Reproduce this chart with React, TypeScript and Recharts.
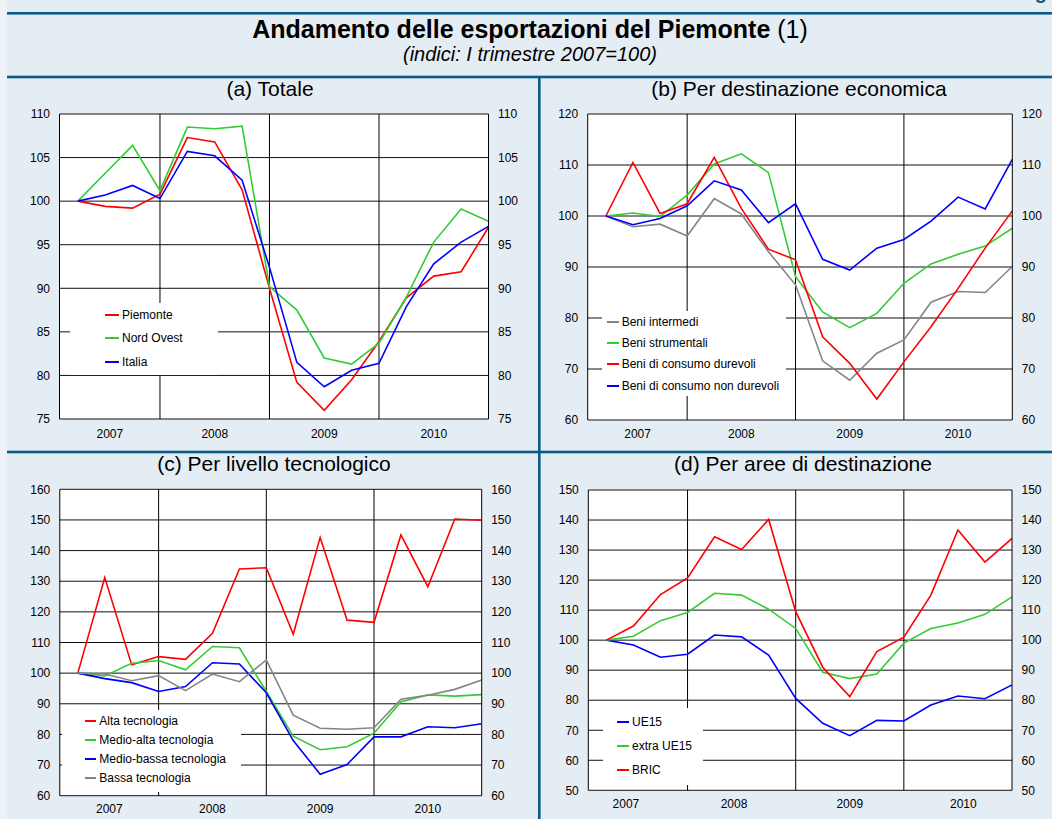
import { LineChart, Line, XAxis, YAxis, CartesianGrid, ReferenceLine, Legend } from 'recharts'

const QUARTERS = [
  'I 2007', 'II 2007', 'III 2007', 'IV 2007',
  'I 2008', 'II 2008', 'III 2008', 'IV 2008',
  'I 2009', 'II 2009', 'III 2009', 'IV 2009',
  'I 2010', 'II 2010', 'III 2010', 'IV 2010',
]
const YEARS = ['2007', '2008', '2009', '2010']
// index of the IV quarter of 2007, 2008, 2009 (year separators)
const YEAR_ENDS = [3, 7, 11]

// (a) Totale
const PIEMONTE = [100, 99.4, 99.2, 100.8, 107.3, 106.8, 101.3, 90.0, 79.2, 76.0, 79.5, 83.9, 88.9, 91.4, 91.9, 97.0]
const NORD_OVEST = [100, 103.2, 106.4, 101.2, 108.5, 108.3, 108.6, 90.2, 87.5, 82.0, 81.3, 83.7, 89.0, 95.3, 99.1, 97.7]
const ITALIA = [100, 100.7, 101.8, 100.3, 105.7, 105.2, 102.4, 92.4, 81.5, 78.7, 80.6, 81.4, 87.9, 92.8, 95.3, 97.1]
const TICKS_TOTALE = [75, 80, 85, 90, 95, 100, 105, 110]

// (b) Per destinazione economica
const INTERMEDI = [100, 97.9, 98.4, 96.1, 103.4, 100.4, 93.0, 86.5, 71.6, 67.8, 73.1, 75.7, 83.1, 85.2, 85.0, 90.1]
const STRUMENTALI = [100, 100.6, 99.9, 104.1, 110.2, 112.2, 108.5, 88.1, 81.2, 78.1, 80.9, 86.8, 90.6, 92.5, 94.1, 97.6]
const DUREVOLI = [100, 110.5, 100.5, 102.4, 111.5, 101.5, 93.5, 91.4, 76.3, 71.1, 64.1, 71.4, 78.3, 85.8, 93.7, 101.0]
const NON_DUREVOLI = [100, 98.3, 99.5, 102.0, 106.9, 105.1, 98.7, 102.4, 91.5, 89.4, 93.7, 95.4, 99.0, 103.7, 101.4, 111.1]
const TICKS_DEST = [60, 70, 80, 90, 100, 110, 120]

// (c) Per livello tecnologico
const ALTA = [100, 131.2, 102.7, 105.4, 104.5, 113.0, 134.0, 134.4, 112.7, 144.3, 117.3, 116.6, 145.1, 128.2, 150.3, 149.9]
const MEDIO_ALTA = [100, 99.1, 103.2, 104.1, 101.1, 108.7, 108.3, 94.0, 79.4, 75.0, 76.0, 80.4, 90.7, 92.9, 92.5, 93.0]
const MEDIO_BASSA = [100, 98.2, 96.9, 94.0, 95.6, 103.4, 103.0, 93.6, 78.0, 67.0, 70.2, 79.2, 79.2, 82.5, 82.2, 83.5]
const BASSA = [100, 99.7, 97.5, 99.2, 94.3, 99.7, 97.2, 104.3, 86.3, 82.0, 81.7, 82.2, 91.5, 92.8, 94.7, 97.8]
const TICKS_TEC = [60, 70, 80, 90, 100, 110, 120, 130, 140, 150, 160]

// (d) Per aree di destinazione
const UE15 = [100, 98.4, 94.3, 95.3, 101.7, 101.1, 95.0, 80.6, 72.3, 68.2, 73.3, 73.1, 78.4, 81.4, 80.5, 85.1]
const EXTRA_UE15 = [100, 101.3, 106.5, 109.2, 115.6, 115.0, 110.3, 103.9, 89.3, 87.2, 88.7, 99.0, 103.9, 105.7, 108.6, 114.4]
const BRIC = [100, 104.7, 115.2, 120.7, 134.4, 130.2, 140.2, 109.5, 91.0, 81.2, 96.2, 101.0, 115.0, 136.7, 126.0, 133.9]
const TICKS_AREE = [50, 60, 70, 80, 90, 100, 110, 120, 130, 140, 150]

const FONT = '"Liberation Sans", Arial, Helvetica, sans-serif'
const RED = '#ff0000'
const GREEN = '#33cc33'
const BLUE = '#0000ff'
const GRAY = '#858585'
const NAVY = '#0b5a87'
const BG = '#e5edf4'

interface Series { name: string; values: number[]; color: string }
interface Box { x: number; y: number; w: number; h: number }
interface LegendSpec extends Box { row: number; pad: number; lineX: number; lineW: number; fontSize: number }
interface PanelSpec {
  frame: Box
  plot: Box
  ticks: number[]
  series: Series[]
  yearPos: number[]
  yearMargin: number
  legend: LegendSpec
}

const X_DOMAIN: [number, number] = [-0.67, 15]
const Q_IDX = QUARTERS.map((_, i) => i)

function QuarterTick(props: any) {
  const { x, y, payload } = props
  const len = payload.value % 4 === 1 ? 10 : 5
  return <line x1={x} x2={x} y1={y} y2={y - len} stroke="#000" strokeWidth={1} />
}

const legendContent = (spec: LegendSpec, order: string[]) => (props: any) => {
  const items = [...(props.payload ?? [])].sort((a: any, b: any) => order.indexOf(a.value) - order.indexOf(b.value))
  return (
    <div style={{ width: spec.w, height: spec.h, background: '#fff', paddingTop: spec.pad, boxSizing: 'border-box', fontFamily: FONT }}>
      {items.map((p: any) => (
        <div key={p.value} style={{ height: spec.row, display: 'flex', alignItems: 'center', fontSize: spec.fontSize, color: '#000', whiteSpace: 'nowrap' }}>
          <span style={{ marginLeft: spec.lineX, width: spec.lineW, height: 2, background: p.color, marginRight: 3, flex: 'none' }} />
          <span>{p.value}</span>
        </div>
      ))}
    </div>
  )
}

function Panel({ spec }: { spec: PanelSpec }) {
  const { frame, plot, ticks, series, legend } = spec
  const data = QUARTERS.map((q, i) => {
    const row: Record<string, number | string> = { i, q }
    series.forEach((s, k) => { row[`s${k}`] = s.values[i] })
    return row
  })
  const leftW = plot.x - frame.x
  const rightW = frame.x + frame.w - (plot.x + plot.w)
  const top = plot.y - frame.y
  const bottom = frame.y + frame.h - (plot.y + plot.h) - 20
  const domain: [number, number] = [ticks[0], ticks[ticks.length - 1]]
  const tickStyle = { fontSize: 12, fill: '#000', fontFamily: FONT }

  return (
    <div style={{ position: 'absolute', left: frame.x, top: frame.y }}>
      <LineChart width={frame.w} height={frame.h} data={data} margin={{ top, right: 0, bottom, left: 0 }}>
        <CartesianGrid xAxisId="q" yAxisId="l" vertical={false} stroke="#111" fill="#fff" fillOpacity={1} />
        <XAxis xAxisId="q" type="number" dataKey="i" domain={X_DOMAIN} ticks={Q_IDX} interval={0} allowDataOverflow
          height={0} tickSize={0} tickMargin={0} tickLine={false} axisLine={{ stroke: '#000' }} tick={<QuarterTick />} />
        <XAxis xAxisId="yr" type="number" dataKey="i" domain={X_DOMAIN} ticks={spec.yearPos} interval={0} allowDataOverflow
          height={20} tickSize={0} tickMargin={spec.yearMargin} tickLine={false} axisLine={false}
          tickFormatter={(_v: number, idx: number) => YEARS[idx]} tick={tickStyle} />
        <YAxis yAxisId="l" type="number" domain={domain} ticks={ticks} interval={0} allowDataOverflow width={leftW}
          tickSize={0} tickMargin={9.5} tickLine={false} axisLine={{ stroke: '#000' }} tick={tickStyle} />
        <YAxis yAxisId="r" orientation="right" type="number" domain={domain} ticks={ticks} interval={0} allowDataOverflow width={rightW}
          tickSize={0} tickMargin={9.5} tickLine={false} axisLine={{ stroke: '#000' }} tick={tickStyle} />
        {YEAR_ENDS.map(x => (
          <ReferenceLine key={x} xAxisId="q" yAxisId="l" x={x} stroke="#000" strokeWidth={1} />
        ))}
        {series.map((s, k) => (
          <Line key={s.name} xAxisId="q" yAxisId="l" type="linear" dataKey={`s${k}`} name={s.name}
            stroke={s.color} strokeWidth={1.6} dot={false} activeDot={false} isAnimationActive={false} />
        ))}
        <Legend layout="vertical" align="center" verticalAlign="middle" content={legendContent(legend, series.map(s => s.name))}
          wrapperStyle={{ left: legend.x - frame.x, top: legend.y - frame.y, width: legend.w, height: legend.h }} />
      </LineChart>
    </div>
  )
}

const PANELS: PanelSpec[] = [
  {
    frame: { x: 0, y: 100, w: 530, h: 350 },
    plot: { x: 59.5, y: 114, w: 429, h: 305 },
    ticks: TICKS_TOTALE,
    series: [
      { name: 'Piemonte', values: PIEMONTE, color: RED },
      { name: 'Nord Ovest', values: NORD_OVEST, color: GREEN },
      { name: 'Italia', values: ITALIA, color: BLUE },
    ],
    yearPos: [1.17, 5, 9, 13],
    yearMargin: 10,
    legend: { x: 70, y: 303.3, w: 148, h: 72, row: 23.3, pad: 0, lineX: 35, lineW: 14, fontSize: 12 },
  },
  {
    frame: { x: 530, y: 100, w: 522, h: 350 },
    plot: { x: 587.7, y: 114, w: 424.6, h: 306 },
    ticks: TICKS_DEST,
    series: [
      { name: 'Beni intermedi', values: INTERMEDI, color: GRAY },
      { name: 'Beni strumentali', values: STRUMENTALI, color: GREEN },
      { name: 'Beni di consumo durevoli', values: DUREVOLI, color: RED },
      { name: 'Beni di consumo non durevoli', values: NON_DUREVOLI, color: BLUE },
    ],
    yearPos: [1.17, 5, 9, 13],
    yearMargin: 9,
    legend: { x: 601.7, y: 310.7, w: 184.3, h: 85.3, row: 21.4, pad: 0.3, lineX: 5.6, lineW: 11.4, fontSize: 12 },
  },
  {
    frame: { x: 0, y: 450, w: 530, h: 369 },
    plot: { x: 59.8, y: 489.3, w: 421.9, h: 306.4 },
    ticks: TICKS_TEC,
    series: [
      { name: 'Alta tecnologia', values: ALTA, color: RED },
      { name: 'Medio-alta tecnologia', values: MEDIO_ALTA, color: GREEN },
      { name: 'Medio-bassa tecnologia', values: MEDIO_BASSA, color: BLUE },
      { name: 'Bassa tecnologia', values: BASSA, color: GRAY },
    ],
    yearPos: [1.17, 5, 9, 13],
    yearMargin: 9,
    legend: { x: 62, y: 710, w: 178.7, h: 82, row: 19.2, pad: 1.1, lineX: 22.5, lineW: 11.8, fontSize: 12 },
  },
  {
    frame: { x: 530, y: 450, w: 522, h: 369 },
    plot: { x: 588.3, y: 490, w: 423.7, h: 300.3 },
    ticks: TICKS_AREE,
    series: [
      { name: 'UE15', values: UE15, color: BLUE },
      { name: 'extra UE15', values: EXTRA_UE15, color: GREEN },
      { name: 'BRIC', values: BRIC, color: RED },
    ],
    yearPos: [0.72, 4.72, 9, 13.2],
    yearMargin: 9.5,
    legend: { x: 603.3, y: 708.3, w: 100, h: 76.7, row: 24, pad: 1.4, lineX: 14, lineW: 11.7, fontSize: 12 },
  },
]

const PANEL_TITLES = [
  { text: '(a) Totale', x: 270, y: 96 },
  { text: '(b) Per destinazione economica', x: 799, y: 96 },
  { text: '(c) Per livello tecnologico', x: 274, y: 471 },
  { text: '(d) Per aree di destinazione', x: 803, y: 471 },
]

export default function App() {
  return (
    <div style={{ position: 'absolute', left: 0, top: 0, width: 1052, height: 819, overflow: 'hidden', background: BG, fontFamily: FONT }}>
      <svg width={1052} height={819} style={{ position: 'absolute', left: 0, top: 0 }}>
        <rect x={0} y={0} width={7} height={819} fill="#eef3f8" />
        <text x={1017} y={-1} fontSize={20} fontWeight="bold" fill={NAVY}>Figura</text>
        <rect x={7} y={12} width={1045} height={2.6} fill={NAVY} />
        <rect x={7} y={75.7} width={1045} height={2.6} fill={NAVY} />
        <rect x={7} y={450.7} width={1045} height={2.6} fill={NAVY} />
        <rect x={538} y={77} width={2.6} height={742} fill={NAVY} />
        <text x={530} y={38} textAnchor="middle" fontSize={25} fontWeight="bold" fill="#000">
          Andamento delle esportazioni del Piemonte <tspan fontWeight="normal">(1)</tspan>
        </text>
        <text x={530} y={60.5} textAnchor="middle" fontSize={20} fontStyle="italic" fill="#000">
          (indici: I trimestre 2007=100)
        </text>
        {PANEL_TITLES.map(t => (
          <text key={t.text} x={t.x} y={t.y} textAnchor="middle" fontSize={21} fill="#000">{t.text}</text>
        ))}
      </svg>
      {PANELS.map((p, i) => <Panel key={i} spec={p} />)}
    </div>
  )
}
